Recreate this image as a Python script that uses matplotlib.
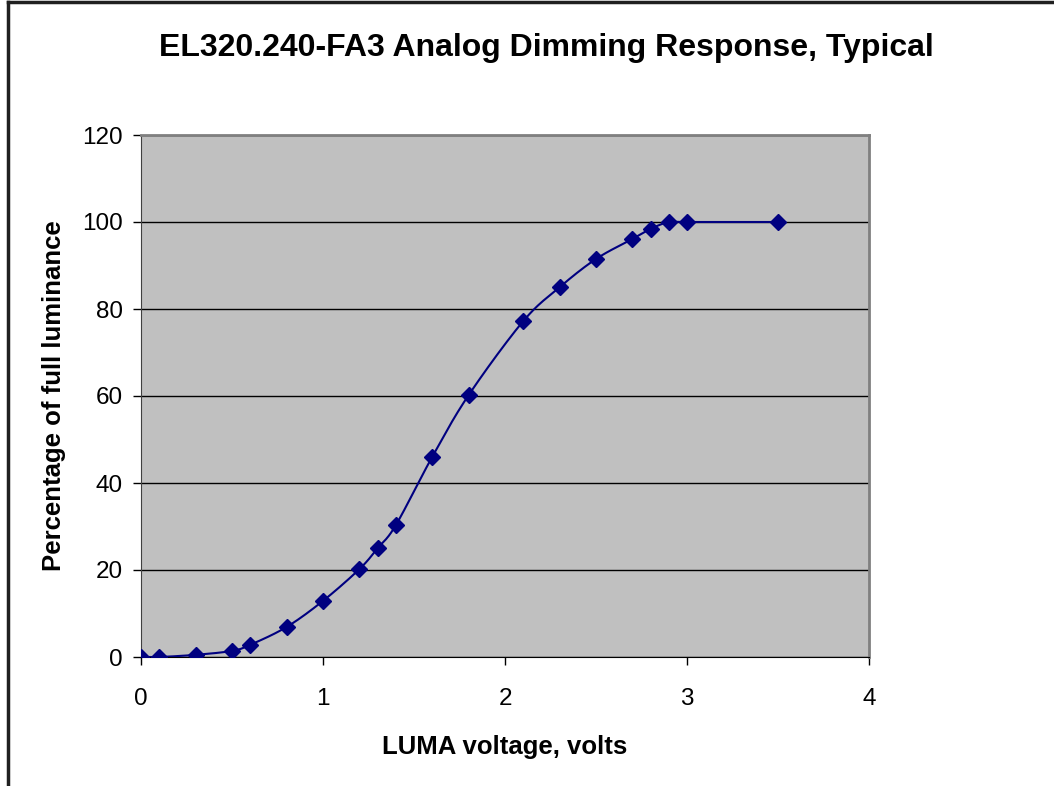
import numpy as np
import matplotlib.pyplot as plt
from matplotlib.lines import Line2D

plt.rcParams['font.family'] = ['Liberation Sans', 'DejaVu Sans']

# data
volts = [0, 0.1, 0.3, 0.5, 0.6, 0.8, 1.0, 1.2, 1.3, 1.4, 1.6, 1.8,
         2.1, 2.3, 2.5, 2.7, 2.8, 2.9, 3.0, 3.5]
lum = [0, 0, 0.5, 1.4, 2.8, 6.9, 12.9, 20.2, 25.0, 30.3, 46.0, 60.2,
       77.2, 85.0, 91.5, 96.1, 98.4, 100, 100, 100]
xticks = [0, 1, 2, 3, 4]
yticks = [0, 20, 40, 60, 80, 100, 120]


def smooth(x, y, n=20):
    # excel style smoothed line: bezier segments, control points from neighbours
    x = np.asarray(x, float)
    y = np.asarray(y, float)
    px = np.concatenate([[x[0]], x, [x[-1]]])
    py = np.concatenate([[y[0]], y, [y[-1]]])
    xs, ys = [], []
    t = np.linspace(0, 1, n)
    for i in range(1, len(px) - 2):
        p0 = np.array([px[i], py[i]])
        p3 = np.array([px[i + 1], py[i + 1]])
        p1 = p0 + (p3 - np.array([px[i - 1], py[i - 1]])) / 6
        p2 = p3 - (np.array([px[i + 2], py[i + 2]]) - p0) / 6
        b = ((1 - t) ** 3)[:, None] * p0 + (3 * (1 - t) ** 2 * t)[:, None] * p1 \
            + (3 * (1 - t) * t ** 2)[:, None] * p2 + (t ** 3)[:, None] * p3
        xs.extend(b[:, 0])
        ys.extend(b[:, 1])
    return xs, ys


fig = plt.figure(figsize=(10.54, 7.86), dpi=100)
ax = fig.add_axes([141 / 1054, 1 - 657 / 786, 728 / 1054, 522 / 786])
ax.set_facecolor('#c0c0c0')

sx, sy = smooth(volts, lum)
ax.plot(sx, sy, color='#000080', lw=1.5, zorder=3)
ax.plot(volts, lum, linestyle='none', marker='D', ms=8.5, color='#000080', zorder=4)

ax.set_xlim(0, 4)
ax.set_ylim(0, 120)
ax.set_xticks(xticks)
ax.set_yticks(yticks)
ax.tick_params(labelsize=17.5, length=6, width=1, direction='out')
ax.tick_params(axis='x', pad=16)
ax.tick_params(axis='y', pad=7)
ax.grid(axis='y', color='black', lw=1)
ax.set_axisbelow(True)
for s in ['top', 'right']:
    ax.spines[s].set_color('#808080')
    ax.spines[s].set_linewidth(2)
ax.spines['left'].set_color('#404040')
ax.spines['bottom'].set_color('black')

ax.set_xlabel('LUMA voltage, volts', fontsize=18.5, fontweight='bold', labelpad=18)
ax.set_ylabel('Percentage of full luminance', fontsize=18.5, fontweight='bold', labelpad=12)
fig.text(546 / 1054, 1 - 48 / 786, 'EL320.240-FA3 Analog Dimming Response, Typical',
         ha='center', va='center', fontsize=23, fontweight='bold')

# chart area border
fig.add_artist(Line2D([8 / 1054, 8 / 1054], [0, 1 - 2 / 786], color='#202020', lw=2.5,
                      transform=fig.transFigure))
fig.add_artist(Line2D([8 / 1054, 1], [1 - 2 / 786, 1 - 2 / 786], color='#202020', lw=2.5,
                      transform=fig.transFigure))

fig.savefig('out.png', dpi=100)
